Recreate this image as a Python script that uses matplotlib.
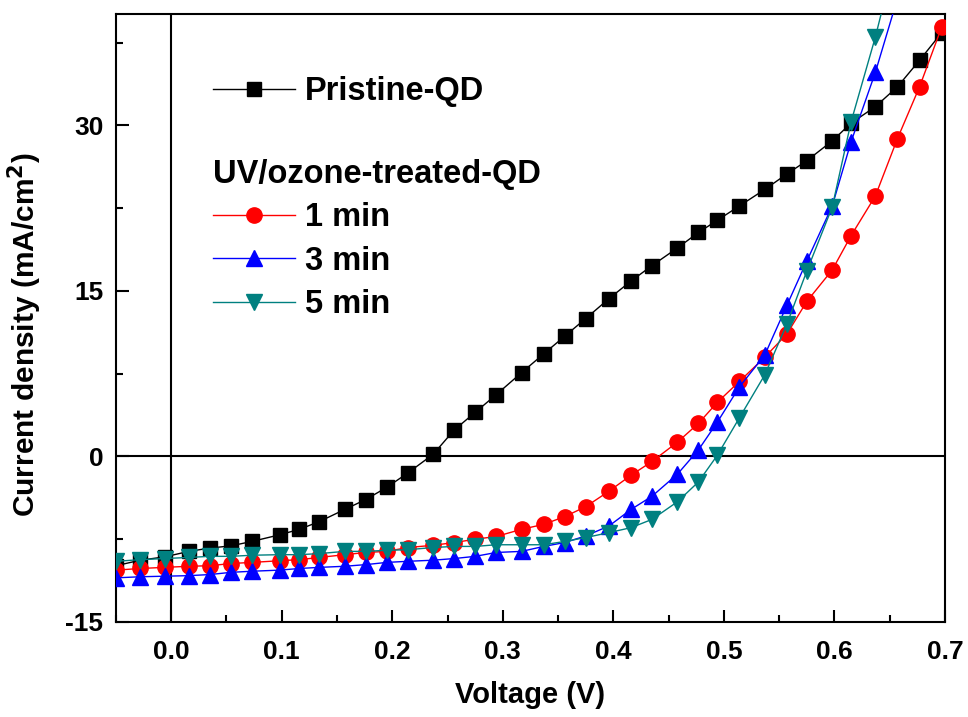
import matplotlib
matplotlib.use("Agg")
import matplotlib.pyplot as plt
from matplotlib.ticker import MultipleLocator

plt.rcParams['font.family'] = ['Liberation Sans', 'DejaVu Sans']
plt.rcParams['font.weight'] = 'bold'
plt.rcParams['axes.unicode_minus'] = False

# voltage of the measured points (V)
voltage = [-0.05, -0.028, -0.006, 0.016, 0.035, 0.054, 0.073, 0.098, 0.116, 0.134,
           0.157, 0.176, 0.195, 0.214, 0.237, 0.256, 0.275, 0.294, 0.317, 0.337,
           0.356, 0.375, 0.396, 0.416, 0.435, 0.458, 0.477, 0.494, 0.514, 0.537,
           0.557, 0.575, 0.598, 0.615, 0.637, 0.657, 0.677, 0.697]

pristine = [-9.9, -9.4, -9.1, -8.6, -8.3, -8.1, -7.7, -7.1, -6.6, -5.9,
            -4.8, -3.9, -2.8, -1.5, 0.2, 2.4, 4.0, 5.6, 7.6, 9.3,
            10.9, 12.5, 14.3, 15.9, 17.3, 18.9, 20.3, 21.4, 22.7, 24.2,
            25.6, 26.8, 28.6, 30.2, 31.7, 33.5, 35.9, 38.4]

uv_1min = [-10.3, -10.15, -10.05, -9.95, -9.9, -9.7, -9.6, -9.45, -9.35, -9.15,
           -8.9, -8.7, -8.6, -8.25, -8.05, -7.8, -7.5, -7.25, -6.6, -6.15,
           -5.45, -4.55, -3.15, -1.7, -0.45, 1.3, 3.0, 4.9, 6.8, 9.0,
           11.1, 14.05, 16.9, 20.0, 23.6, 28.8, 33.5, 38.9]

uv_3min = [-11.0, -10.9, -10.85, -10.8, -10.7, -10.5, -10.4, -10.3, -10.15, -10.05,
           -9.95, -9.8, -9.6, -9.5, -9.4, -9.25, -9.05, -8.7, -8.6, -8.15,
           -7.8, -7.2, -6.3, -4.8, -3.6, -1.6, 0.6, 3.1, 6.3, 9.2,
           13.7, 17.7, 22.7, 28.5, 34.8, 41.5]

uv_5min = [-9.5, -9.35, -9.25, -9.15, -9.05, -9.05, -8.95, -8.9, -8.9, -8.8,
           -8.6, -8.6, -8.5, -8.45, -8.25, -8.15, -8.15, -8.0, -8.0, -8.0,
           -7.7, -7.35, -6.9, -6.45, -5.7, -4.1, -2.3, 0.1, 3.5, 7.4,
           12.0, 16.8, 22.6, 30.3, 38.0, 46.0]

fig = plt.figure(figsize=(9.68, 7.17), dpi=100)
ax = fig.add_axes([0.1198, 0.1325, 0.8564, 0.848])

ax.axhline(0, color='black', lw=1.5, zorder=1)
ax.axvline(0, color='black', lw=1.5, zorder=1)

p0, = ax.plot(voltage, pristine, color='black', lw=1, marker='s', ms=10,
              label='Pristine-QD', zorder=3)
p1, = ax.plot(voltage, uv_1min, color='red', lw=1, marker='o', ms=11,
              label='1 min', zorder=3)
p3, = ax.plot(voltage[:len(uv_3min)], uv_3min, color='blue', lw=1, marker='^', ms=12,
              label='3 min', zorder=3)
p5, = ax.plot(voltage[:len(uv_5min)], uv_5min, color='#008080', lw=1, marker='v', ms=12,
              label='5 min', zorder=3)

ax.set_xlim(-0.05, 0.7)
ax.set_ylim(-15, 40.1)
ax.xaxis.set_major_locator(MultipleLocator(0.1))
ax.xaxis.set_minor_locator(MultipleLocator(0.05))
ax.yaxis.set_major_locator(MultipleLocator(15))
ax.yaxis.set_minor_locator(MultipleLocator(7.5))
ax.tick_params(which='both', direction='in', top=False, right=False, width=1.5)
ax.tick_params(which='major', length=9)
ax.tick_params(which='minor', length=5)
ax.tick_params(axis='x', which='major', labelsize=19, pad=13)
ax.tick_params(axis='y', which='major', labelsize=19, pad=9)
ax.set_xticks([0.0, 0.1, 0.2, 0.3, 0.4, 0.5, 0.6, 0.7])
ax.set_xticklabels(['0.0', '0.1', '0.2', '0.3', '0.4', '0.5', '0.6', '0.7'])
for s in ax.spines.values():
    s.set_linewidth(1.5)

ax.set_xlabel('Voltage (V)', fontsize=21, fontweight='bold', labelpad=12)
ax.set_ylabel('Current density (mA/cm$^\\mathbf{2}$)', fontsize=21.5, fontweight='bold')
ax.yaxis.set_label_coords(-0.087, 0.472)

leg1 = ax.legend(handles=[p0], loc='upper left', bbox_to_anchor=(0.082, 0.946),
                 frameon=False, fontsize=23.5, handlelength=2.5, handletextpad=0.3)
ax.add_artist(leg1)
ax.legend(handles=[p1, p3, p5], loc='upper left', bbox_to_anchor=(0.082, 0.81),
          frameon=False, fontsize=23.5, handlelength=2.5, handletextpad=0.3,
          labelspacing=0.38, title='UV/ozone-treated-QD', alignment='left',
          title_fontproperties={'size': 23.5, 'weight': 'bold'})

fig.savefig('out.png', dpi=100)
